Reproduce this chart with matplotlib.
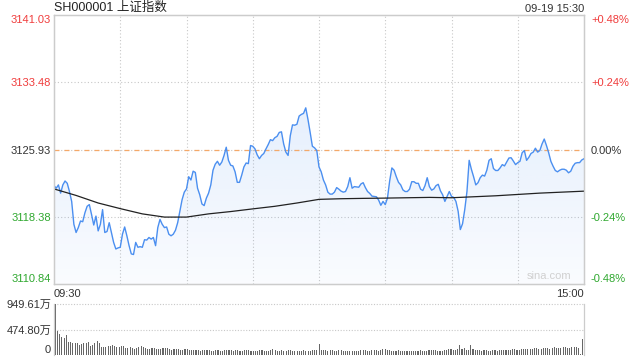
import numpy as np
import matplotlib

matplotlib.use("Agg")
import matplotlib.pyplot as plt
from matplotlib.colors import to_rgb

plt.rcParams["font.family"] = ["Liberation Sans", "Noto Sans CJK SC", "DejaVu Sans"]

# ---- data ----
title = "SH000001 上证指数"
stamp = "09-19 15:30"
prev_close = 3125.93

# 分时价格 (每分钟, 09:30 - 15:00, 241 点)
price = [
    3121.88, 3121.59, 3121.96, 3121.04, 3121.96, 3122.40, 3122.14, 3121.22, 3120.11, 3117.54,
    3116.62, 3117.17, 3117.91, 3117.83, 3118.83, 3119.56, 3119.75, 3118.64, 3117.46, 3118.46,
    3116.80, 3117.54, 3119.19, 3116.62, 3116.73, 3117.72, 3116.62, 3115.51, 3114.77, 3114.89,
    3114.96, 3116.43, 3117.24, 3116.25, 3115.14, 3114.22, 3114.15, 3115.51, 3114.96, 3115.03,
    3114.96, 3115.81, 3115.77, 3116.06, 3115.88, 3116.06, 3115.14, 3117.17, 3118.09, 3117.54,
    3117.17, 3117.24, 3116.43, 3116.25, 3116.43, 3116.87, 3117.72, 3119.01, 3120.30, 3121.15,
    3121.51, 3122.88, 3122.51, 3123.50, 3123.36, 3121.59, 3120.85, 3119.82, 3119.64, 3120.48,
    3121.04, 3121.96, 3123.61, 3124.28, 3124.61, 3124.17, 3124.53, 3125.27, 3126.19, 3124.72,
    3124.17, 3124.09, 3123.43, 3122.25, 3122.25, 3123.06, 3123.98, 3124.42, 3124.35, 3126.38,
    3126.30, 3126.01, 3125.34, 3124.90, 3125.27, 3125.49, 3126.01, 3126.49, 3127.04, 3126.93,
    3127.26, 3127.41, 3127.85, 3127.92, 3126.56, 3125.64, 3125.27, 3127.48, 3128.70, 3128.66,
    3128.77, 3129.69, 3129.87, 3129.99, 3130.61, 3129.32, 3127.85, 3126.30, 3126.12, 3125.82,
    3123.98, 3123.43, 3122.51, 3121.96, 3121.15, 3120.93, 3120.93, 3121.15, 3121.66, 3121.48,
    3121.26, 3121.15, 3121.22, 3121.77, 3122.77, 3121.59, 3121.77, 3121.73, 3121.70, 3122.07,
    3122.21, 3121.66, 3121.22, 3121.00, 3120.70, 3120.67, 3120.63, 3120.26, 3119.67, 3120.11,
    3119.75, 3120.48, 3122.40, 3123.87, 3123.61, 3122.88, 3122.25, 3121.96, 3121.40, 3121.22,
    3121.22, 3121.48, 3122.32, 3122.32, 3122.14, 3122.14, 3121.48, 3121.33, 3121.88, 3122.77,
    3121.77, 3121.37, 3121.51, 3121.88, 3122.03, 3121.29, 3120.85, 3120.11, 3120.67, 3121.22,
    3120.67, 3120.56, 3120.11, 3119.01, 3116.95, 3117.60, 3119.19, 3121.22, 3124.72, 3123.72,
    3122.88, 3121.96, 3122.21, 3122.77, 3123.06, 3122.95, 3123.61, 3124.72, 3124.90, 3123.80,
    3123.58, 3123.58, 3123.87, 3124.24, 3124.09, 3124.53, 3124.98, 3125.01, 3124.64, 3124.24,
    3124.46, 3124.61, 3125.57, 3125.82, 3124.72, 3125.05, 3125.49, 3125.64, 3126.08, 3125.64,
    3125.82, 3126.56, 3127.11, 3126.38, 3125.57, 3124.61, 3124.06, 3123.58, 3123.43, 3123.61,
    3123.72, 3123.72, 3123.61, 3123.32, 3123.50, 3124.06, 3124.39, 3124.46, 3124.46, 3124.76,
    3124.90,
]

# 均价线 (每 10 分钟)
avg_minutes = list(range(0, 241, 10))
avg_price = [
    3121.51, 3120.78, 3119.93, 3119.30, 3118.71, 3118.35, 3118.35, 3118.71, 3118.97,
    3119.27, 3119.56, 3119.93, 3120.34, 3120.41, 3120.45, 3120.48, 3120.52,
    3120.56, 3120.52, 3120.63, 3120.74, 3120.89, 3121.04, 3121.15, 3121.26,
]

# 成交量 (万)
volume = [
    949.61, 456, 394, 331, 312, 375, 250, 244, 231, 231, 219, 188, 206, 231, 219,
    250, 169, 181, 219, 269, 231, 156, 144, 156, 169, 169, 188, 169, 156,
    150, 162, 175, 138, 131, 144, 125, 119, 131, 150, 162, 144, 125, 112, 119, 131,
    125, 112, 106, 119, 125, 138, 131, 112, 100, 106, 119, 112, 100, 94, 106,
    112, 100, 94, 88, 100, 94, 81, 88, 94, 100, 88, 81, 75, 88, 94, 81, 75, 88, 100, 94,
    88, 81, 94, 88, 75, 81, 94, 100, 88, 81, 75, 69, 81, 88, 94, 81, 75, 81, 88, 112,
    94, 81, 75, 88, 81, 75, 88, 94, 81, 75, 69, 75, 81, 88, 75, 69, 81, 88, 94, 100,
    206, 100, 94, 88, 81, 94, 88, 75, 81, 88, 94, 81, 75, 69, 75, 81, 75, 69, 81, 88,
    94, 88, 75, 81, 94, 100, 88, 81, 94, 112, 106, 94, 88, 81, 75, 81, 88, 81, 75, 69,
    75, 81, 75, 69, 75, 81, 88, 81, 75, 81, 88, 94, 100, 88, 81, 75, 81, 94, 100, 106,
    112, 100, 94, 106, 187, 119, 125, 100, 94, 187, 112, 100, 94, 88, 81, 94, 88, 81, 75, 88,
    94, 81, 88, 94, 100, 88, 94, 100, 112, 106, 100, 94, 106, 112, 119, 112, 106, 119, 131, 125,
    112, 119, 131, 138, 125, 119, 131, 144, 138, 125, 131, 144, 150, 138, 131, 144, 156, 150, 131, 25,
    300,
]

price_ticks = [3110.84, 3118.38, 3125.93, 3133.48, 3141.03]
pct_labels = ["-0.48%", "-0.24%", "0.00%", "+0.24%", "+0.48%"]
vol_ticks = [0, 474.80, 949.61]
vol_labels = ["0", "474.80万", "949.61万"]
time_labels = ["09:30", "15:00"]

RED = "#f03c3c"
GREEN = "#2fa82f"
GRAY_TXT = "#333333"
GRID = "#c8c8c8"
LINE = "#4b8ff0"


def label_color(v):
    if v > prev_close + 0.01:
        return RED
    if v < prev_close - 0.01:
        return GREEN
    return GRAY_TXT


minutes = np.arange(len(price))

fig = plt.figure(figsize=(6.4, 3.6), dpi=100)
ax = fig.add_axes([54 / 640, 1 - 284 / 360, 530 / 640, 269 / 360])
vax = fig.add_axes([54 / 640, 1 - 355 / 360, 530 / 640, 51 / 360])

ylo, yhi = price_ticks[0], price_ticks[-1]

# 渐变填充
poly = ax.fill_between(minutes, price, ylo, color="none", lw=0)
grad = np.linspace(1, 0, 256).reshape(-1, 1)
rgba = np.zeros((256, 1, 4))
rgba[..., :3] = to_rgb(LINE)
rgba[..., 3] = 0.03 + 0.17 * grad
im = ax.imshow(rgba, extent=[0, len(price) - 1, ylo, yhi], aspect="auto",
               origin="upper", zorder=1)
im.set_clip_path(poly.get_paths()[0], transform=ax.transData)

ax.plot(minutes, price, color=LINE, lw=1.0, zorder=3)
ax.plot(avg_minutes, avg_price, color="#222222", lw=0.9, zorder=3)

# 网格
for t in range(30, 240, 30):
    ax.axvline(t, color=GRID, lw=0.8, ls=(0, (1, 2)), zorder=0)
for v in (price_ticks[1], price_ticks[3]):
    ax.axhline(v, color=GRID, lw=0.8, ls=(0, (1, 2)), zorder=0)
ax.axhline(prev_close, color=GRID, lw=0.8, ls=(0, (1, 2)), zorder=0)
ax.axhline(prev_close, color="#f5a868", lw=0.9, ls=(0, (4, 4)), zorder=2)

ax.set_xlim(0, len(price) - 1)
ax.set_ylim(ylo, yhi)

ax.set_yticks(price_ticks, [f"{v:.2f}" for v in price_ticks])
ax.tick_params(axis="y", length=0, pad=2, labelsize=8)
ylabs = ax.get_yticklabels()
for lab, v in zip(ylabs, price_ticks):
    lab.set_color(label_color(v))
ylabs[0].set_va("bottom")
ylabs[-1].set_va("top")

ax.set_xticks([0, len(price) - 1], time_labels)
ax.tick_params(axis="x", length=0, pad=3.5, labelsize=8, labelcolor=GRAY_TXT)
xlabs = ax.get_xticklabels()
xlabs[0].set_ha("left")
xlabs[-1].set_ha("right")

ax2 = ax.twinx()
ax2.set_ylim(ylo, yhi)
ax2.set_yticks(price_ticks, pct_labels)
ax2.tick_params(axis="y", length=0, pad=5, labelsize=8)
rlabs = ax2.get_yticklabels()
for lab, v in zip(rlabs, price_ticks):
    lab.set_color(label_color(v))
rlabs[0].set_va("bottom")
rlabs[-1].set_va("top")

for a in (ax, ax2):
    for s in a.spines.values():
        s.set_color("#cccccc")
        s.set_linewidth(0.9)

ax.text(0.977, 0.012, "sina.com", transform=ax.transAxes, ha="right", va="bottom",
        color="#d0d0d0", fontsize=8)

# 成交量
vax.bar(minutes, volume, width=0.5, color="#666666", align="center")
vax.set_xlim(-0.6, len(price) - 0.5)
vax.set_ylim(0, vol_ticks[-1])
for v in vol_ticks[1:]:
    vax.axhline(v, color=GRID, lw=0.8, ls=(0, (1, 1.5)), zorder=0, clip_on=False)
vax.set_yticks(vol_ticks, vol_labels)
vax.tick_params(axis="y", length=0, pad=2, labelsize=8, labelcolor=GRAY_TXT)
vax.get_yticklabels()[0].set_va("bottom")
vax.set_xticks([])
vax.spines["top"].set_visible(False)
vax.spines["bottom"].set_visible(False)
for s in ("left", "right"):
    vax.spines[s].set_color("#cccccc")
    vax.spines[s].set_linewidth(0.9)

fig.text(54 / 640, 1 - 8 / 360, title, ha="left", va="center", fontsize=9, color="#222222")
fig.text(584 / 640, 1 - 8.5 / 360, stamp, ha="right", va="center", fontsize=8, color=GRAY_TXT)

fig.savefig("out.png", dpi=100)
